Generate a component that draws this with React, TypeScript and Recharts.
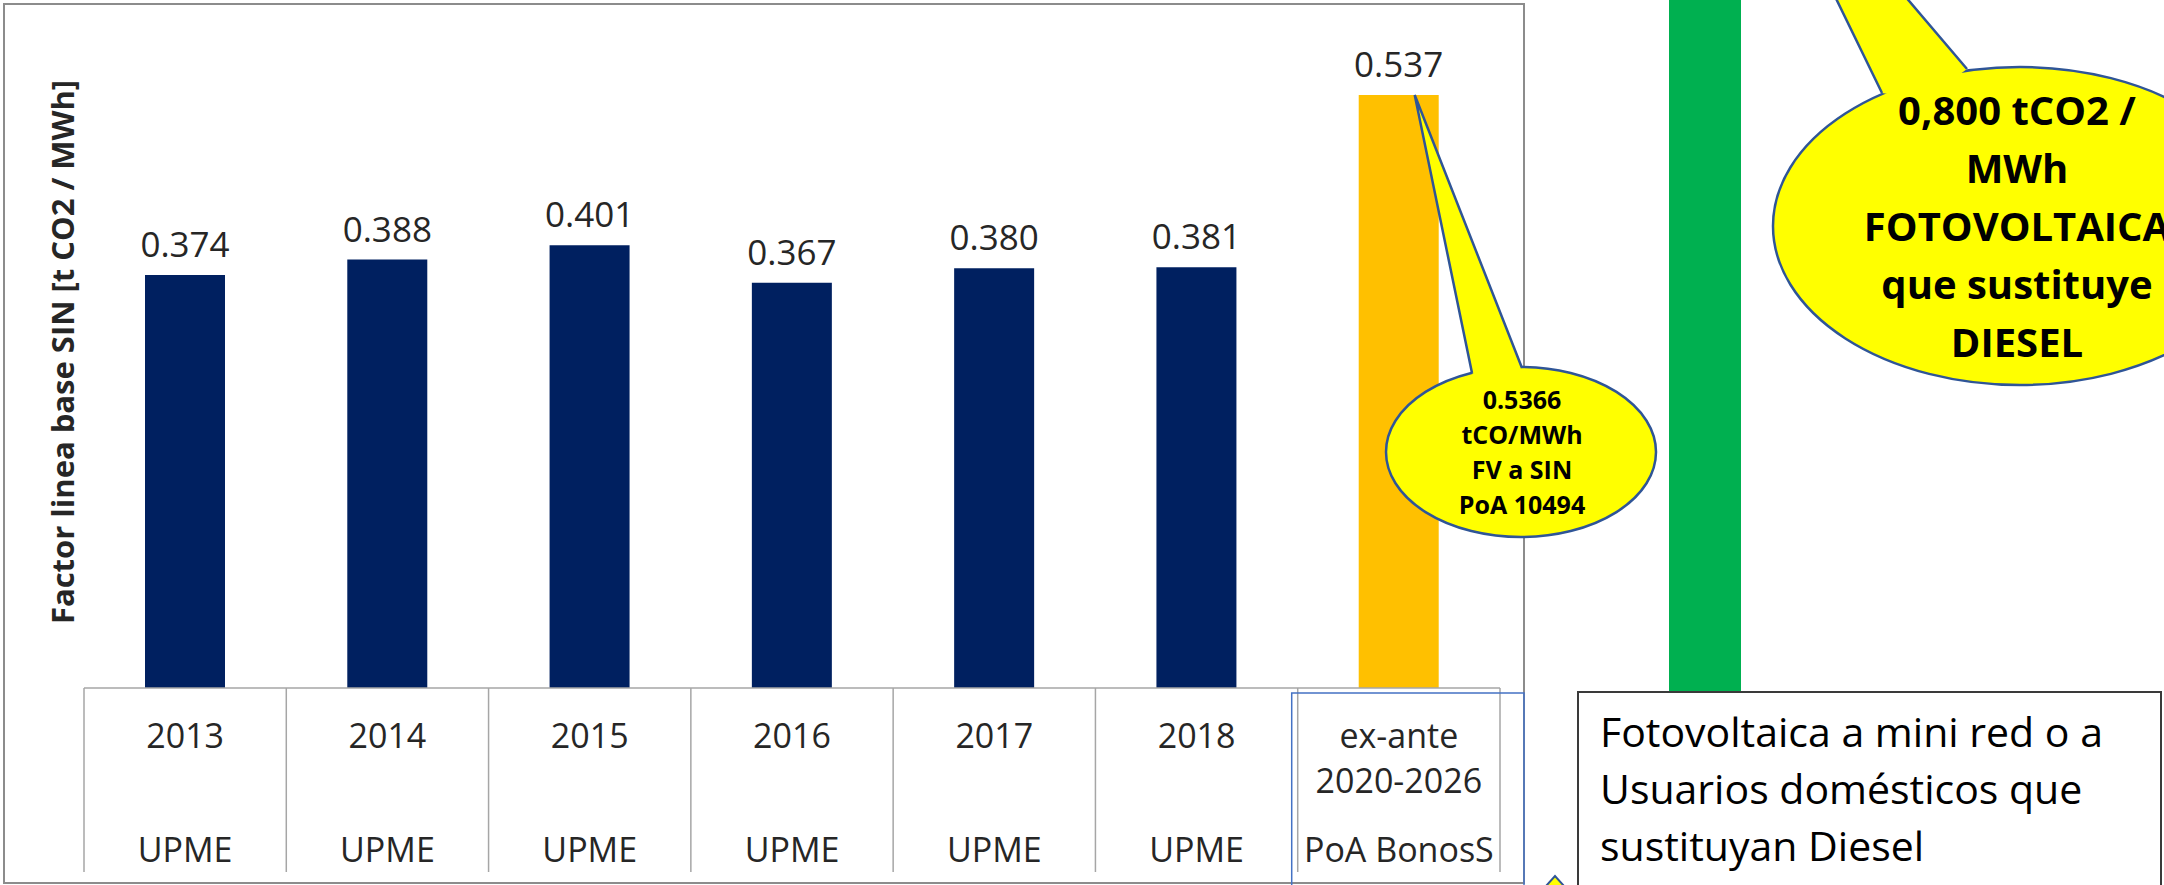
import { Bar, BarChart, Cell, LabelList, XAxis, YAxis } from 'recharts';

// baseline emission factor of the national grid (SIN), t CO2 / MWh
const periods = ['2013', '2014', '2015', '2016', '2017', '2018', 'ex-ante\n2020-2026'];
const sources = ['UPME', 'UPME', 'UPME', 'UPME', 'UPME', 'UPME', 'PoA BonosS'];
const factors = [0.374, 0.388, 0.401, 0.367, 0.38, 0.381, 0.537];
const barColors = ['#002060', '#002060', '#002060', '#002060', '#002060', '#002060', '#FFC000'];

// diesel substitution factor (bar runs off the top of the picture)
const dieselNames = ['Diesel'];
const dieselFactors = [0.8];

const gridCallout = ['0.5366', 'tCO/MWh', 'FV a SIN', 'PoA 10494'];
const dieselCallout = ['0,800 tCO2 /', 'MWh', 'FOTOVOLTAICA', 'que sustituye', 'DIESEL'];
const noteLines = ['Fotovoltaica a mini red o a', 'Usuarios domésticos que', 'sustituyan Diesel'];
const yTitle = 'Factor linea base SIN [t CO2 / MWh]';

const W = 2164;
const H = 885;
const AXIS_H = 197;
const Y_TOP = 0.623;
const PLOT_LEFT = 84;
const PLOT_RIGHT = 1500;
const BAND = (PLOT_RIGHT - PLOT_LEFT) / periods.length;

const FONT = '"Open Sans", "Noto Sans", sans-serif';
const YELLOW = '#FFFF00';
const OUTLINE = '#2F5597';
const TEXT = '#262626';

const gridData = periods.map((period, i) => ({period, source: sources[i], factor: factors[i]}));
const dieselData = dieselNames.map((name, i) => ({name, factor: dieselFactors[i]}));

function CategoryTick(props: any) {
  const {x, y, payload, index} = props;
  const lines = String(payload.value).split('\n');
  const last = index === periods.length - 1;
  const left = x - BAND / 2;
  return (
    <g>
      <line x1={left} x2={left} y1={y} y2={y + 184} stroke="#a6a6a6" strokeWidth={1.5} />
      {last && <line x1={x + BAND / 2} x2={x + BAND / 2} y1={y} y2={y + 184} stroke="#a6a6a6" strokeWidth={1.5} />}
      {lines.map((l, i) => (
        <text key={i} x={x} y={y + 60 + i * 45} textAnchor="middle" fontFamily={FONT} fontSize={34} fill={TEXT}>
          {l}
        </text>
      ))}
      <text x={x} y={y + 174} textAnchor="middle" fontFamily={FONT} fontSize={34} fill={TEXT}>
        {sources[index]}
      </text>
      {last && (
        <rect x={left - 6} y={y + 5} width={BAND + 30} height={200} fill="none" stroke="#4472C4" strokeWidth={1.5} />
      )}
    </g>
  );
}

function renderYTitle(props: any) {
  const vb = props.viewBox;
  const cx = vb.x + vb.width - 22;
  const cy = vb.y + vb.height / 2 + 8;
  return (
    <text
      x={cx}
      y={cy}
      transform={`rotate(-90 ${cx} ${cy})`}
      textAnchor="middle"
      dominantBaseline="central"
      fontFamily={FONT}
      fontWeight="bold"
      fontSize={31}
      fill={TEXT}
    >
      {yTitle}
    </text>
  );
}

function GridCallout(props: any) {
  if (props.index !== factors.length - 1) return null;
  const vb = props.viewBox ?? props;
  const ax = vb.x + vb.width * 0.7;
  const ay = vb.y;
  return (
    <g>
      <ellipse cx={1521} cy={452} rx={135} ry={85} fill={YELLOW} stroke={OUTLINE} strokeWidth={2.5} />
      <polygon points={`${ax},${ay} 1472,373 1497,388 1522,368`} fill={YELLOW} />
      <polyline points={`1472,373 ${ax},${ay} 1522,368`} fill="none" stroke={OUTLINE} strokeWidth={2.5} />
      {gridCallout.map((t, i) => (
        <text key={i} x={1522} y={409 + i * 35} textAnchor="middle" fontFamily={FONT} fontWeight="bold" fontSize={25} fill="#000">
          {t}
        </text>
      ))}
    </g>
  );
}

function DieselCallout(props: any) {
  const vb = props.viewBox ?? props;
  const ax = vb.x + vb.width;
  const ay = vb.y;
  return (
    <g>
      <ellipse cx={2020} cy={226} rx={247} ry={159} fill={YELLOW} stroke={OUTLINE} strokeWidth={2.5} />
      <polygon points={`${ax},${ay} 1882,93 1925,100 1967,69`} fill={YELLOW} />
      <polyline points={`1882,93 ${ax},${ay} 1967,69`} fill="none" stroke={OUTLINE} strokeWidth={2.5} />
      {dieselCallout.map((t, i) => (
        <text key={i} x={2017} y={125 + i * 58} textAnchor="middle" fontFamily={FONT} fontWeight="bold" fontSize={40} fill="#000">
          {t}
        </text>
      ))}
    </g>
  );
}

export default function App() {
  return (
    <div style={{position: 'absolute', left: 0, top: 0, width: W, height: H, overflow: 'hidden', background: '#fff'}}>
      <div
        style={{
          position: 'absolute',
          left: 3,
          top: 3,
          width: 1522,
          height: 881,
          border: '2px solid #8c8c8c',
          boxSizing: 'border-box',
        }}
      />
      <div style={{position: 'absolute', left: 0, top: 0}}>
        <BarChart width={W} height={H} data={gridData} margin={{top: 0, right: W - PLOT_RIGHT, bottom: 0, left: 0}} barSize={80}>
          <XAxis
            dataKey="period"
            height={AXIS_H}
            interval={0}
            tickLine={false}
            tickSize={0}
            tickMargin={0}
            axisLine={{stroke: '#a6a6a6', strokeWidth: 1.5}}
            tick={<CategoryTick />}
          />
          <YAxis
            width={PLOT_LEFT}
            domain={[0, Y_TOP]}
            allowDataOverflow
            tick={false}
            tickLine={false}
            axisLine={false}
            label={renderYTitle}
          />
          <Bar dataKey="factor" isAnimationActive={false}>
            {gridData.map((d, i) => (
              <Cell key={d.period} fill={barColors[i]} />
            ))}
            <LabelList
              dataKey="factor"
              position="top"
              offset={18}
              formatter={(v: any) => Number(v).toFixed(3)}
              fontFamily={FONT}
              fontSize={35}
              fill={TEXT}
            />
            <LabelList dataKey="factor" content={GridCallout} />
          </Bar>
        </BarChart>
      </div>
      <div style={{position: 'absolute', left: 0, top: 0}}>
        <BarChart width={W} height={H} data={dieselData} margin={{top: 0, right: 419, bottom: 193, left: 1665}} barSize={80}>
          <XAxis dataKey="name" hide />
          <YAxis hide domain={[0, Y_TOP]} allowDataOverflow />
          <Bar dataKey="factor" fill="#00B050" isAnimationActive={false}>
            <LabelList dataKey="factor" content={DieselCallout} />
          </Bar>
        </BarChart>
      </div>
      <svg width={W} height={H} style={{position: 'absolute', left: 0, top: 0}}>
        <rect x={1578} y={692} width={583} height={220} fill="#fff" stroke="#3a3a3a" strokeWidth={2} />
        {noteLines.map((t, i) => (
          <text key={i} x={1600} y={747 + i * 57} fontFamily={FONT} fontSize={41} fill="#000">
            {t}
          </text>
        ))}
        <polygon points="1546,886 1555,876 1564,886" fill={YELLOW} stroke={OUTLINE} strokeWidth={2} />
      </svg>
    </div>
  );
}
